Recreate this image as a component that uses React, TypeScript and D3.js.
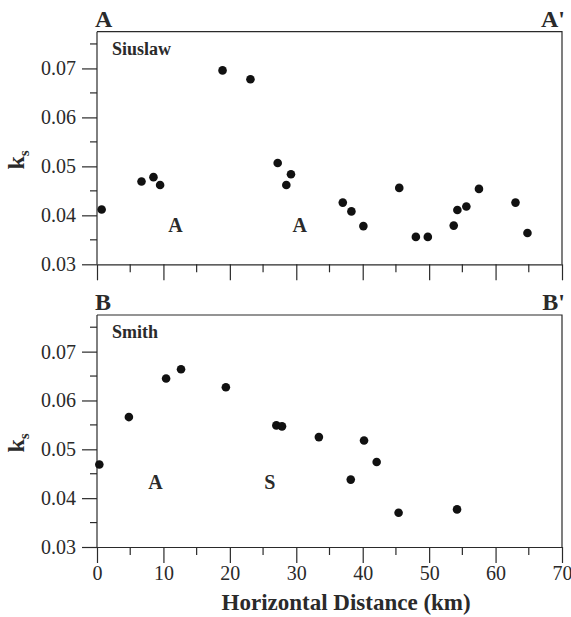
import React, { useRef, useEffect } from "react";
import * as d3 from "d3";

// Siuslaw profile (A - A')
const siuslawKm = [0.7, 6.7, 8.5, 9.5, 18.9, 23.1, 27.2, 28.5, 29.2, 37.0, 38.3, 40.1, 45.5, 48.0, 49.8, 53.7, 54.25, 55.6, 57.5, 63.0, 64.8];
const siuslawKs = [0.0412, 0.0469, 0.0478, 0.0462, 0.0696, 0.0678, 0.0507, 0.0462, 0.0484, 0.0426, 0.0408, 0.0378, 0.0456, 0.0356, 0.0356, 0.0379, 0.0411, 0.0418, 0.0454, 0.0426, 0.0364];

// Smith profile (B - B')
const smithKm = [0.35, 4.8, 10.4, 12.65, 19.4, 27.0, 27.85, 33.4, 40.2, 42.1, 38.2, 45.4, 54.2];
const smithKs = [0.0469, 0.0566, 0.0645, 0.0664, 0.0627, 0.0549, 0.0547, 0.0525, 0.0518, 0.0474, 0.0438, 0.037, 0.0377];

const xMajor = [0, 10, 20, 30, 40, 50, 60, 70];
const xMinor = [5, 15, 25, 35, 45, 55, 65];
const yMajor = [0.03, 0.04, 0.05, 0.06, 0.07];
const yMinor = [0.035, 0.045, 0.055, 0.065, 0.075];

// lithology labels inside panels
const siuslawLabels = [{ km: 11.8, ks: 0.0365, text: "A" }, { km: 30.5, ks: 0.0365, text: "A" }];
const smithLabels = [{ km: 8.8, ks: 0.0418, text: "A" }, { km: 26.0, ks: 0.0418, text: "S" }];

export default function App() {
  const svgRef = useRef(null);

  useEffect(() => {
    const width = 571;
    const height = 617;
    const ink = "#2a2a2a";
    const font = "Liberation Serif";

    const svg = d3.select(svgRef.current)
      .attr("width", width)
      .attr("height", height)
      .attr("viewBox", [0, 0, width, height])
      .attr("font-family", font);

    svg.selectAll("*").remove();

    const x = d3.scaleLinear().domain([0, 70]).range([97, 562]);

    const panels = [
      { top: 31.7, bottom: 264.3, km: siuslawKm, ks: siuslawKs, name: "Siuslaw", left: "A", right: "A'", labels: siuslawLabels, xLabels: false },
      { top: 315, bottom: 547, km: smithKm, ks: smithKs, name: "Smith", left: "B", right: "B'", labels: smithLabels, xLabels: true },
    ];

    panels.forEach((p) => {
      const y = d3.scaleLinear().domain([0.03, 0.0775]).range([p.bottom, p.top]);
      const g = svg.append("g");

      // frame top + right
      g.append("path")
        .attr("d", `M${x(0)},${p.top}H${x(70)}V${p.bottom}`)
        .attr("fill", "none")
        .attr("stroke", ink)
        .attr("stroke-width", 1.2);

      // y axis
      const yAxis = g.append("g").attr("transform", `translate(${x(0)},0)`);
      yAxis.call(d3.axisLeft(y).tickValues(yMajor).tickSize(15).tickSizeOuter(0).tickPadding(6).tickFormat(d3.format(".2f")));
      yAxis.append("g").selectAll("line").data(yMinor).join("line")
        .attr("x1", -7).attr("x2", 0)
        .attr("y1", (d) => y(d)).attr("y2", (d) => y(d))
        .attr("stroke", ink).attr("stroke-width", 1.2);
      yAxis.select(".domain").attr("d", `M0,${p.bottom}V${p.top}`);

      // x axis
      const xAxis = g.append("g").attr("transform", `translate(0,${p.bottom})`);
      xAxis.call(d3.axisBottom(x).tickValues(xMajor).tickSize(16).tickSizeOuter(0).tickPadding(3)
        .tickFormat(p.xLabels ? d3.format("d") : () => ""));
      xAxis.append("g").selectAll("line").data(xMinor).join("line")
        .attr("x1", (d) => x(d)).attr("x2", (d) => x(d))
        .attr("y1", 0).attr("y2", 8)
        .attr("stroke", ink).attr("stroke-width", 1.2);

      [xAxis, yAxis].forEach((a) => a.attr("font-family", font).attr("font-size", 20));

      // points
      g.append("g").attr("fill", "#111")
        .selectAll("circle")
        .data(p.km.map((d, i) => [d, p.ks[i]]))
        .join("circle")
        .attr("cx", (d) => x(d[0]))
        .attr("cy", (d) => y(d[1]))
        .attr("r", 4.3);

      // profile name
      g.append("text")
        .attr("x", 112).attr("y", p.top + 23)
        .attr("fill", ink)
        .attr("font-weight", "bold")
        .attr("font-size", 18)
        .text(p.name);

      // lithology labels
      g.append("g").selectAll("text").data(p.labels).join("text")
        .attr("x", (d) => x(d.km)).attr("y", (d) => y(d.ks))
        .attr("text-anchor", "middle")
        .attr("fill", ink)
        .attr("font-weight", "bold")
        .attr("font-size", 20)
        .text((d) => d.text);

      // section end letters
      g.append("text")
        .attr("x", 95).attr("y", p.top - 5)
        .attr("fill", ink).attr("font-weight", "bold").attr("font-size", 24)
        .text(p.left);
      g.append("text")
        .attr("x", 565).attr("y", p.top - 5)
        .attr("text-anchor", "end")
        .attr("fill", ink).attr("font-weight", "bold").attr("font-size", 24)
        .text(p.right);

      // k_s label
      const cy = (p.top + p.bottom) / 2 + 12;
      const lab = g.append("text")
        .attr("transform", `translate(24,${cy}) rotate(-90)`)
        .attr("text-anchor", "middle")
        .attr("fill", ink)
        .attr("font-weight", "bold")
        .attr("font-size", 24);
      lab.append("tspan").text("k");
      lab.append("tspan").attr("font-size", 15).attr("dy", 5).text("s");
    });

    svg.selectAll(".domain, .tick line").attr("stroke", ink).attr("stroke-width", 1.2);
    svg.selectAll(".tick text").attr("fill", ink);

    svg.append("text")
      .attr("x", x(37.5)).attr("y", 610)
      .attr("text-anchor", "middle")
      .attr("fill", ink)
      .attr("font-weight", "bold")
      .attr("font-size", 23)
      .text("Horizontal Distance (km)");
  }, []);

  return <svg ref={svgRef} style={{ position: "absolute", left: 0, top: 0, background: "#fff" }}></svg>;
}
